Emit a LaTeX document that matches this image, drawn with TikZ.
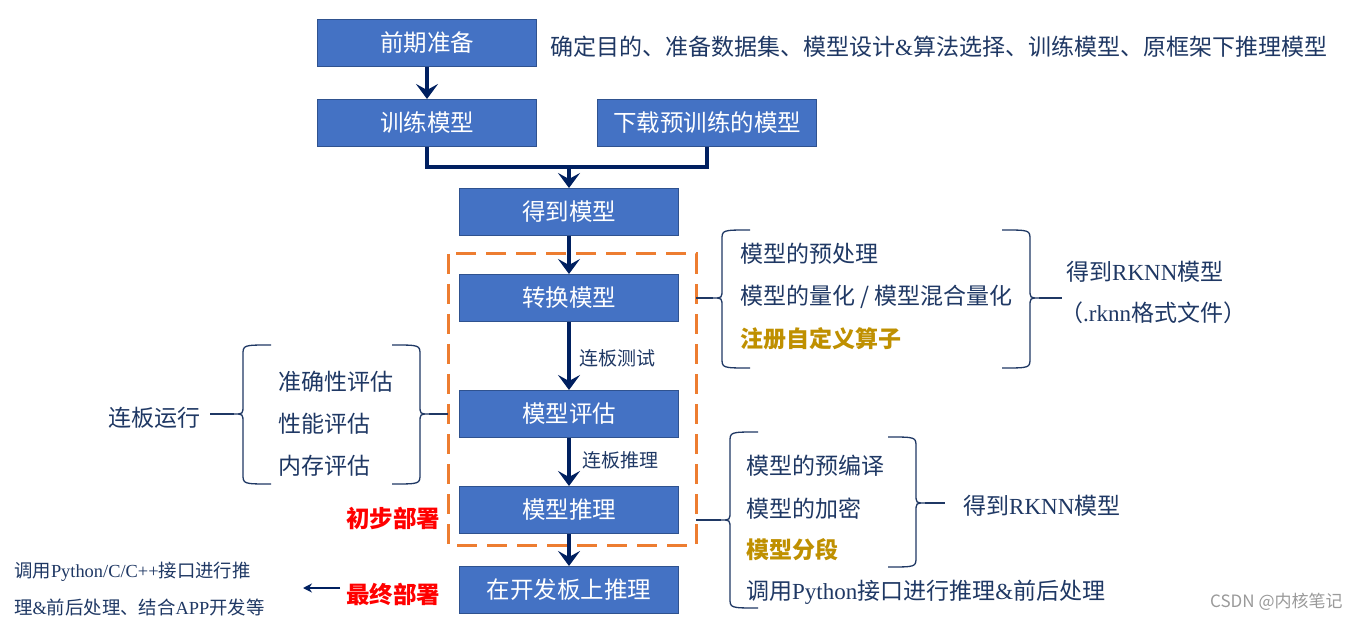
\documentclass[tikz,border=0pt]{standalone}
\usepackage{fontspec}
\setmainfont{Noto Sans CJK SC}
\newfontfamily\lat{Liberation Serif}
\usetikzlibrary{arrows.meta}
\definecolor{boxfill}{HTML}{4472C4}
\definecolor{boxline}{HTML}{2F528F}
\definecolor{arrnavy}{HTML}{002060}
\definecolor{txt}{HTML}{1F3864}
\definecolor{gold}{HTML}{BF9000}
\definecolor{dashor}{HTML}{ED7D31}
\definecolor{wm}{HTML}{9A9A9A}
\tikzset{
  box/.style={draw=boxline, line width=1pt, fill=boxfill, minimum width=219pt, minimum height=47pt, text=white, font=\fontsize{23.5pt}{25pt}\selectfont, inner sep=0pt},
  arr/.style={draw=arrnavy, line width=3.5pt, -{Stealth[length=15pt,width=22pt,inset=6pt]}},
  link/.style={draw=arrnavy, line width=3.5pt},
  lbl/.style={anchor=west, inner sep=0pt, text=txt, font=\fontsize{23pt}{25pt}\selectfont},
  goldlbl/.style={lbl, text=gold, font=\fontsize{23pt}{25pt}\selectfont\bfseries},
  small/.style={anchor=west, inner sep=0pt, text=txt, font=\fontsize{19pt}{21pt}\selectfont},
  smaller/.style={small, font=\fontsize{18.4pt}{20pt}\selectfont},
  redlbl/.style={anchor=west, inner sep=0pt, text=red, font=\fontsize{23.5pt}{25pt}\selectfont\bfseries},
  brc/.style={draw=txt, line width=1.3pt},
  dashbox/.style={draw=dashor, line width=3pt, dash pattern=on 20pt off 10pt},
}
\newcommand\mybrL[6]{%
  \draw[brc] ({#1+#6},#2) .. controls (#1,#2) .. (#1,{#2+10}) -- (#1,{#4-9})
    .. controls (#1,#4) .. ({#1-9},#4) .. controls (#1,#4) .. (#1,{#4+9})
    -- (#1,{#3-10}) .. controls (#1,#3) .. ({#1+#6},#3);
  \draw[brc] ({#1-9},#4) -- (#5,#4);}
\newcommand\mybrR[6]{%
  \draw[brc] ({#1-#6},#2) .. controls (#1,#2) .. (#1,{#2+10}) -- (#1,{#4-9})
    .. controls (#1,#4) .. ({#1+9},#4) .. controls (#1,#4) .. (#1,{#4+9})
    -- (#1,{#3-10}) .. controls (#1,#3) .. ({#1-#6},#3);
  \draw[brc] ({#1+9},#4) -- (#5,#4);}
\begin{document}
\begin{tikzpicture}[x=1pt,y=-1pt]
\useasboundingbox[fill=white] (0,0) rectangle (1361,620);

% dashed frame
\draw[dashbox] (448,254) rectangle (696,545);

% boxes
\node[box] (prep)  at (427,43)  {前期准备};
\node[box] (train) at (427,123) {训练模型};
\node[box] (dl)    at (707,123) {下载预训练的模型};
\node[box] (get)   at (569,212) {得到模型};
\node[box] (conv)  at (569,298) {转换模型};
\node[box] (eval)  at (569,414) {模型评估};
\node[box] (infer) at (569,510) {模型推理};
\node[box] (board) at (569,590) {在开发板上推理};

% connectors
\coordinate (jl) at (427,167);
\coordinate (j)  at (569,167);
\coordinate (jr) at (707,167);
\draw[arr] (prep.south) -- (train.north);
\draw[link, line join=miter] (train.south) -- (jl) -- (jr) -- (dl.south);
\draw[arr] (j) -- (get.north);
\draw[arr] (get.south) -- (conv.north);
\draw[arr] (conv.south) -- (eval.north);
\draw[arr] (eval.south) -- (infer.north);
\draw[arr] (infer.south) -- (board.north);

\node[small] (t1) at (579,358) {连板测试};
\node[small] (t2) at (582,460) {连板推理};

% top description
\node[lbl] (desc) at (550,47) {确定目的、准备数据集、模型设计{\lat\&}算法选择、训练模型、原框架下推理模型};

% conversion braces
\mybrL{722}{230}{368}{298}{696}{28}
\node[lbl] (a1) at (740,254) {模型的预处理};
\node[lbl] (a2) at (740,297) {模型的量化 / 模型混合量化};
\node[goldlbl] (a3) at (740,339) {注册自定义算子};
\mybrR{1030}{230}{368}{298}{1062}{28}
\node[lbl] (rk1) at (1066,272) {得到{\lat RKNN}模型};
\node[lbl] (rk2) at (1060,313) {（{\lat .rknn}格式文件）};

% evaluation braces
\node[lbl] (run) at (108,418) {连板运行};
\mybrL{243}{345}{484}{414}{210}{28}
\node[lbl] (b1) at (278,382) {准确性评估};
\node[lbl] (b2) at (278,424) {性能评估};
\node[lbl] (b3) at (278,466) {内存评估};
\mybrR{420}{345}{484}{414}{448}{28}

% inference braces
\mybrL{730}{432}{608}{520}{696}{28}
\node[lbl] (c1) at (746,466) {模型的预编译};
\node[lbl] (c2) at (746,509) {模型的加密};
\node[goldlbl] (c3) at (746,550) {模型分段};
\node[lbl] (c4) at (746,592) {调用{\lat Python}接口进行推理{\lat\&}前后处理};
\mybrR{916}{437}{567}{503}{945}{28}
\node[lbl] (rk3) at (963,506) {得到{\lat RKNN}模型};

% deployment labels
\node[redlbl] (r1) at (346,518) {初步部署};
\node[redlbl] (r2) at (346,594) {最终部署};
\node[smaller] (l1) at (14,572) {调用{\lat Python/C/C++}接口进行推};
\node[smaller] (l2) at (14,607) {理{\lat\&}前后处理、结合{\lat APP}开发等};
\coordinate (ae) at (303,588);
\draw[draw=arrnavy, line width=1.5pt, -{Stealth[length=9pt,width=9pt]}] (r2.west) ++(-6,-6) -- (ae);

% watermark
\node[anchor=west, inner sep=0pt, text=wm, font=\fontsize{17pt}{19pt}\selectfont] (wmk) at (1210,602) {CSDN @内核笔记};
\end{tikzpicture}
\end{document}
